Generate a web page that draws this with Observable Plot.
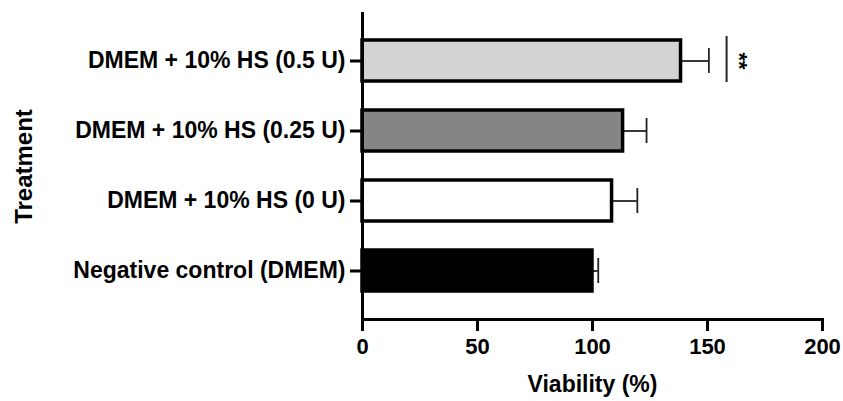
<!DOCTYPE html>
<html><head><meta charset="utf-8">
<script src="https://cdn.jsdelivr.net/npm/d3@7"></script>
<script src="https://cdn.jsdelivr.net/npm/@observablehq/plot@0.6"></script>
<style>body{margin:0;background:#fff}</style>
</head><body><div id="chart"></div>
<script>
const treatments = ["DMEM + 10% HS (0.5 U)", "DMEM + 10% HS (0.25 U)", "DMEM + 10% HS (0 U)", "Negative control (DMEM)"];
const viability = [138.5, 113.3, 108.5, 100];
const errorUpper = [150.6, 123.5, 119.5, 102.5];
const barColors = ["#d3d3d3", "#858585", "#ffffff", "#000000"];
const xTicks = [0, 50, 100, 150, 200];
const xLabel = "Viability (%)";
const yLabel = "Treatment";
const sigLabel = "**";
const sigLineX = 158.3;
const sigTextX = 163.6;
const sigTreatment = treatments[0];

const data = treatments.map((t, i) => ({treatment: t, value: viability[i], hi: errorUpper[i]}));
const sig = [{x: sigLineX, tx: sigTextX, y: sigTreatment, label: sigLabel}];
const font = "'Liberation Sans', Arial, Helvetica, sans-serif";

const chart = Plot.plot({
  width: 843, height: 401,
  marginTop: 13, marginBottom: 82, marginLeft: 362, marginRight: 21,
  style: {fontFamily: font, fontWeight: "bold", background: "#fff", color: "#000", overflow: "visible"},
  x: {domain: [0, 200], ticks: xTicks},
  y: {domain: treatments, paddingInner: 0.42, paddingOuter: 0.2, insetTop: 11, insetBottom: 12.5},
  color: {domain: treatments, range: barColors},
  marks: [
    Plot.ruleY(data, {y: "treatment", x1: "value", x2: "hi", stroke: "#222", strokeWidth: 1.8}),
    Plot.tickX(data, {x: "hi", y: "treatment", stroke: "#222", strokeWidth: 1.8, insetTop: 8, insetBottom: 8}),
    Plot.barX(data, {x: "value", y: "treatment", fill: "treatment", stroke: "#000", strokeWidth: 3.5}),
    Plot.tickX(sig, {x: "x", y: "y", stroke: "#222", strokeWidth: 2, insetTop: -4, insetBottom: -1}),
    Plot.text(sig, {x: "tx", y: "y", text: "label", rotate: 90, fontSize: 22, fontWeight: "bold"}),
    Plot.axisX({ticks: xTicks, tickSize: 12, tickPadding: 7, strokeWidth: 3, fontSize: 22, label: null}),
    Plot.axisY({tickSize: 12, tickPadding: 5, strokeWidth: 3, fontSize: 23, label: null}),
    Plot.frame({anchor: "left", strokeWidth: 3}),
    Plot.frame({anchor: "bottom", strokeWidth: 3}),
    Plot.text([xLabel], {frameAnchor: "bottom", textAnchor: "middle", lineAnchor: "middle", dy: 65, fontSize: 23, fontWeight: "bold"}),
    Plot.text([yLabel], {frameAnchor: "left", textAnchor: "middle", lineAnchor: "middle", rotate: -90, dx: -338, fontSize: 24, fontWeight: "bold"})
  ]
});
document.getElementById("chart").appendChild(chart);
</script>
</body></html>
